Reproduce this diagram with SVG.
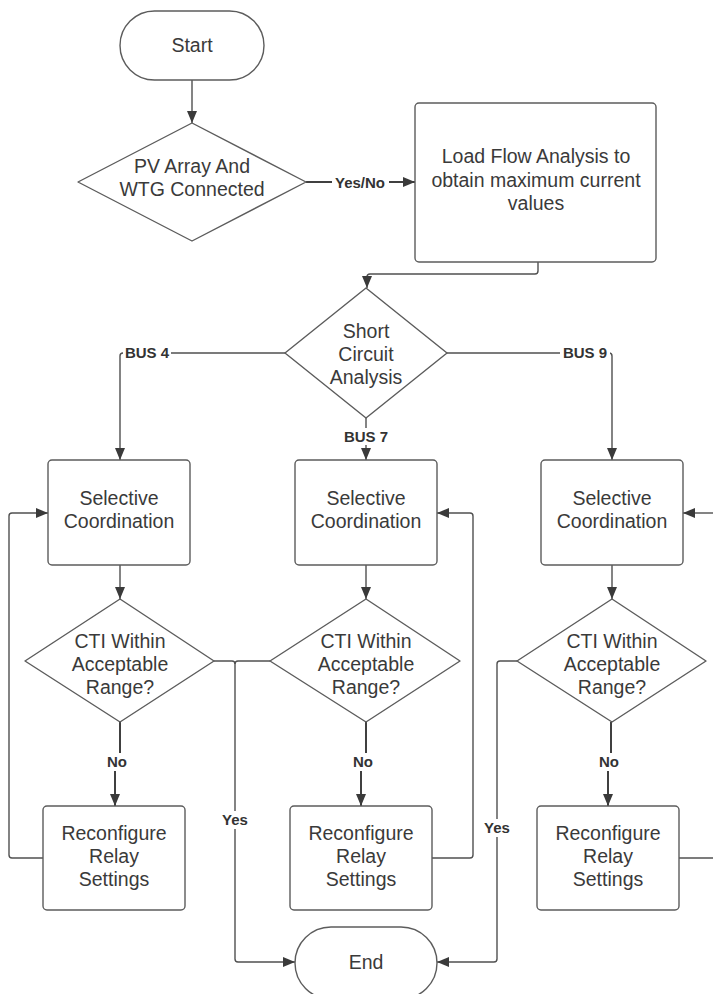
<svg xmlns="http://www.w3.org/2000/svg" width="713" height="994" viewBox="0 0 713 994">
<defs>
<style>
.shape{fill:#fff;stroke:#5c5c5c;stroke-width:1.4}
.t{font-family:"Liberation Sans",Arial,sans-serif;font-size:19.5px;fill:#3a3a3a;text-anchor:middle}
.lbl{font-family:"Liberation Sans",Arial,sans-serif;font-size:15px;font-weight:bold;fill:#333;text-anchor:middle}
.c{fill:none;stroke:#505050;stroke-width:1.4;stroke-linejoin:round}
.ck{fill:none;stroke:#404040;stroke-width:2;stroke-linejoin:round}
.a{marker-end:url(#ah)}
.bg{fill:#fff}
</style>
<marker id="ah" markerUnits="userSpaceOnUse" markerWidth="14" markerHeight="12" refX="12" refY="6" orient="auto">
<path d="M0,1 L12,6 L0,11 Z" fill="#3a3a3a"/>
</marker>
</defs>
<rect width="713" height="994" fill="#fff"/>

<g id="connectors">
<path class="c a" d="M192,80 V123"/>
<path class="ck a" d="M306,182 H415"/>
<path class="c a" d="M538,262 V271 Q538,274 535,274 H370 Q367,274 367,277 V288"/>
<path class="c a" d="M285,353 H123 Q120,353 120,356 V460"/>
<path class="c a" d="M447,353 H609 Q612,353 612,356 V460"/>
<path class="c a" d="M366,418 V460"/>
<path class="c a" d="M120,565 V599"/>
<path class="c a" d="M366,565 V599"/>
<path class="c a" d="M612,565 V599"/>
<path class="ck" d="M120,722 V762"/>
<path class="ck a" d="M115,762 V806"/>
<path class="ck" d="M366,722 V762"/>
<path class="ck a" d="M361,762 V806"/>
<path class="ck" d="M611,722 V762"/>
<path class="ck a" d="M608,762 V806"/>
<path class="c a" d="M43,858 H12 Q9,858 9,855 V516 Q9,513 12,513 H48"/>
<path class="c a" d="M432,858 H470 Q473,858 473,855 V516 Q473,513 470,513 H437"/>
<path class="c" d="M679,858 H713"/>
<path class="c a" d="M713,513 H683"/>
<path class="c a" d="M214,661 H232 Q235,661 235,664 V959 Q235,962 238,962 H295"/>
<path class="c" d="M270,661 H238 Q235,661 235,664"/>
<path class="c a" d="M517,661 H500 Q497,661 497,664 V959 Q497,962 494,962 H437"/>
<rect class="bg" x="332" y="174" width="57" height="17"/>
<text class="lbl" x="360" y="188">Yes/No</text>
<rect class="bg" x="123" y="344" width="48" height="17"/>
<text class="lbl" x="147" y="358">BUS 4</text>
<rect class="bg" x="560" y="344" width="50" height="17"/>
<text class="lbl" x="585" y="358">BUS 9</text>
<rect class="bg" x="341" y="428" width="50" height="17"/>
<text class="lbl" x="366" y="442">BUS 7</text>
<rect class="bg" x="103" y="753" width="28" height="18"/>
<text class="lbl" x="117" y="767">No</text>
<rect class="bg" x="349" y="753" width="28" height="18"/>
<text class="lbl" x="363" y="767">No</text>
<rect class="bg" x="595" y="753" width="28" height="18"/>
<text class="lbl" x="609" y="767">No</text>
<rect class="bg" x="219" y="811" width="32" height="18"/>
<text class="lbl" x="235" y="825">Yes</text>
<rect class="bg" x="481" y="819" width="32" height="18"/>
<text class="lbl" x="497" y="833">Yes</text>
</g>

<g id="start">
<rect class="shape" x="120" y="11" width="144" height="69" rx="34.5"/>
<text class="t" x="192" y="52">Start</text>
</g>
<g id="pv-connected">
<path class="shape" d="M192,123 L306,182 L192,241 L78,182 Z" stroke-linejoin="round"/>
<text class="t" x="192" y="173">PV Array And</text>
<text class="t" x="192" y="196">WTG Connected</text>
</g>
<g id="load-flow">
<rect class="shape" x="415" y="103" width="241" height="159" rx="4"/>
<text class="t" x="536" y="163">Load Flow Analysis to</text>
<text class="t" x="536" y="187">obtain maximum current</text>
<text class="t" x="536" y="210">values</text>
</g>
<g id="short-circuit">
<path class="shape" d="M366,288 L447,353 L366,418 L285,353 Z" stroke-linejoin="round"/>
<text class="t" x="366" y="338">Short</text>
<text class="t" x="366" y="361">Circuit</text>
<text class="t" x="366" y="384">Analysis</text>
</g>
<g id="selective-4">
<rect class="shape" x="48" y="460" width="142" height="105" rx="4"/>
<text class="t" x="119" y="505">Selective</text>
<text class="t" x="119" y="528">Coordination</text>
</g>
<g id="selective-7">
<rect class="shape" x="295" y="460" width="142" height="105" rx="4"/>
<text class="t" x="366" y="505">Selective</text>
<text class="t" x="366" y="528">Coordination</text>
</g>
<g id="selective-9">
<rect class="shape" x="541" y="460" width="142" height="105" rx="4"/>
<text class="t" x="612" y="505">Selective</text>
<text class="t" x="612" y="528">Coordination</text>
</g>
<g id="cti-4">
<path class="shape" d="M120,599 L214,661 L120,722 L25,661 Z" stroke-linejoin="round"/>
<text class="t" x="120" y="648">CTI Within</text>
<text class="t" x="120" y="671">Acceptable</text>
<text class="t" x="120" y="694">Range?</text>
</g>
<g id="cti-7">
<path class="shape" d="M366,599 L460,661 L366,722 L270,661 Z" stroke-linejoin="round"/>
<text class="t" x="366" y="648">CTI Within</text>
<text class="t" x="366" y="671">Acceptable</text>
<text class="t" x="366" y="694">Range?</text>
</g>
<g id="cti-9">
<path class="shape" d="M612,599 L706,661 L612,722 L517,661 Z" stroke-linejoin="round"/>
<text class="t" x="612" y="648">CTI Within</text>
<text class="t" x="612" y="671">Acceptable</text>
<text class="t" x="612" y="694">Range?</text>
</g>
<g id="reconfig-4">
<rect class="shape" x="43" y="806" width="142" height="104" rx="4"/>
<text class="t" x="114" y="840">Reconfigure</text>
<text class="t" x="114" y="863">Relay</text>
<text class="t" x="114" y="886">Settings</text>
</g>
<g id="reconfig-7">
<rect class="shape" x="290" y="806" width="142" height="104" rx="4"/>
<text class="t" x="361" y="840">Reconfigure</text>
<text class="t" x="361" y="863">Relay</text>
<text class="t" x="361" y="886">Settings</text>
</g>
<g id="reconfig-9">
<rect class="shape" x="537" y="806" width="142" height="104" rx="4"/>
<text class="t" x="608" y="840">Reconfigure</text>
<text class="t" x="608" y="863">Relay</text>
<text class="t" x="608" y="886">Settings</text>
</g>
<g id="end">
<rect class="shape" x="295" y="927" width="142" height="72" rx="36"/>
<text class="t" x="366" y="969">End</text>
</g>
</svg>
